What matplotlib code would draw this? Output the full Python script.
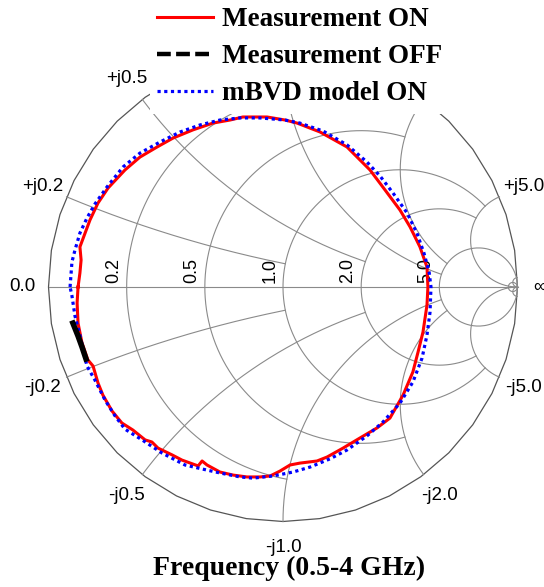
import numpy as np
import matplotlib.pyplot as plt
from matplotlib.lines import Line2D
from matplotlib.patches import Rectangle

on_re = [-0.874, -0.866, -0.861, -0.866, -0.844, -0.823, -0.789, -0.746, -0.674, -0.610,
         -0.537, -0.469, -0.384, -0.299, -0.226, -0.171, -0.068, 0.009, 0.060, 0.158,
         0.273, 0.371, 0.426, 0.499, 0.542, 0.584, 0.614, 0.618, 0.614, 0.597,
         0.576, 0.554, 0.512, 0.456, 0.401, 0.328, 0.256, 0.188, 0.145, 0.072,
         0.030, -0.013, -0.055, -0.098, -0.154, -0.213, -0.269, -0.324, -0.345, -0.362,
         -0.431, -0.473, -0.533, -0.559, -0.588, -0.640, -0.687, -0.729, -0.768, -0.789,
         -0.810, -0.832, -0.857, -0.874, -0.878, -0.874]
on_im = [0.000, 0.060, 0.115, 0.171, 0.230, 0.286, 0.358, 0.422, 0.499, 0.554,
         0.597, 0.635, 0.670, 0.699, 0.712, 0.725, 0.725, 0.712, 0.699, 0.661,
         0.597, 0.499, 0.426, 0.328, 0.256, 0.171, 0.085, 0.000, -0.077, -0.192,
         -0.277, -0.362, -0.461, -0.559, -0.601, -0.644, -0.687, -0.725, -0.742, -0.751,
         -0.759, -0.785, -0.806, -0.810, -0.810, -0.802, -0.789, -0.759, -0.742, -0.763,
         -0.738, -0.716, -0.687, -0.661, -0.652, -0.610, -0.580, -0.529, -0.461, -0.409,
         -0.337, -0.311, -0.239, -0.154, -0.068, 0.000]

off_re = [-0.896, -0.874, -0.857, -0.840]
off_im = [-0.154, -0.209, -0.256, -0.307]

model_re = [-0.908, -0.900, -0.887, -0.866, -0.836, -0.802, -0.751, -0.682, -0.610, -0.525,
            -0.439, -0.354, -0.269, -0.183, -0.098, 0.009, 0.072, 0.171, 0.273, 0.358,
            0.414, 0.469, 0.529, 0.571, 0.601, 0.623, 0.631, 0.627, 0.614, 0.593,
            0.554, 0.499, 0.426, 0.358, 0.273, 0.200, 0.115, 0.043, -0.043, -0.128,
            -0.183, -0.269, -0.345, -0.418, -0.516, -0.601, -0.674, -0.716, -0.759, -0.802,
            -0.836, -0.866, -0.887, -0.900, -0.908]
model_im = [0.000, 0.107, 0.158, 0.230, 0.294, 0.354, 0.426, 0.512, 0.571, 0.618,
            0.661, 0.691, 0.712, 0.721, 0.721, 0.712, 0.699, 0.665, 0.606, 0.533,
            0.473, 0.401, 0.316, 0.230, 0.145, 0.064, 0.000, -0.107, -0.205, -0.303,
            -0.405, -0.495, -0.576, -0.635, -0.695, -0.733, -0.768, -0.789, -0.806, -0.815,
            -0.810, -0.793, -0.776, -0.759, -0.708, -0.652, -0.606, -0.550, -0.482, -0.397,
            -0.337, -0.205, -0.124, -0.038, 0.000]

# smith grid values and where each grid line stops
r_values = [0.2, 0.5, 1.0, 2.0, 5.0]
r_stop = [1.0, 2.0, 5.0, 5.0, np.inf]
x_values = [0.2, 0.5, 1.0, 2.0, 5.0]
x_stop = [1.0, 2.0, 5.0, 5.0, np.inf]
# reactance labels that are not hidden behind the legend
x_labels_top = [0.2, 0.5, 5.0]
x_labels_bottom = [0.2, 0.5, 1.0, 2.0, 5.0]

legend_labels = ["Measurement ON", "Measurement OFF", "mBVD model ON"]
xlabel_text = "Frequency (0.5-4 GHz)"

### Layout (pixels)
W, H = 544, 587
CX, CY, RAD = 283, 287, 234.5

def gamma(z):
    return (z - 1) / (z + 1)

def r_circle(r, xmax, n=400):
    t = np.linspace(-np.arctan(xmax), np.arctan(xmax), n)
    return gamma(r + 1j * np.tan(t))

def x_arc(x, rmax, n=400):
    t = np.linspace(0, np.arctan(rmax), n)
    return gamma(np.tan(t) + 1j * x)

fig = plt.figure(figsize=(W / 100, H / 100), dpi=100)
ax = fig.add_axes([0, 0, 1, 1])
ax.set_xlim(-CX / RAD, (W - CX) / RAD)
ax.set_ylim((CY - H) / RAD, CY / RAD)
ax.set_aspect("equal")
ax.axis("off")

grid_kw = dict(color="#8a8a8a", lw=0.8, zorder=1)

# outer circle (coarse polygon like the original)
th = np.linspace(0, 2 * np.pi, 41)
ax.plot(np.cos(th), np.sin(th), color="#555555", lw=0.9, zorder=1)
ax.plot([-1, 1], [0, 0], **grid_kw)

for r, xm in zip(r_values, r_stop):
    g = r_circle(r, xm)
    ax.plot(g.real, g.imag, **grid_kw)
for x, rm in zip(x_values, x_stop):
    for s in (1, -1):
        g = x_arc(s * x, rm)
        ax.plot(g.real, g.imag, **grid_kw)

# tiny circles at the infinity point
g = r_circle(50.0, np.inf)
ax.plot(g.real, g.imag, **grid_kw)
for s in (1, -1):
    g = x_arc(s * 50.0, np.inf)
    ax.plot(g.real, g.imag, **grid_kw)

# labels
lab_font = dict(family="Liberation Sans", fontsize=13.5, ha="center", va="center", zorder=3)
for x in x_labels_top:
    g = gamma(1j * x) * 1.11
    ax.text(g.real, g.imag, "+j%.1f" % x, **lab_font)
for x in x_labels_bottom:
    g = gamma(-1j * x) * 1.11
    ax.text(g.real, g.imag, "-j%.1f" % x, **lab_font)
ax.text(-1.11, 0, "0.0", **lab_font)
ax.text((533 - CX) / RAD, 0, "\u221e", family="Liberation Sans", fontsize=13.5,
        ha="left", va="center", zorder=3)

for r in r_values:
    g = gamma(r)
    ax.text(g - 0.02, 0.015, "%.1f" % r, rotation=90, ha="right", va="bottom",
            family="Liberation Sans", fontsize=13, zorder=3)

### Curves
on_style = dict(color="red", lw=2.2)
off_style = dict(color="black", lw=3.2, ls=(0, (3.1, 1.2)))
model_style = dict(color="blue", lw=2.3, ls=(0, (1, 1.1)))

ax.plot(on_re, on_im, zorder=3, **on_style)
ax.plot(model_re, model_im, zorder=3.5, **model_style)
ax.plot(off_re, off_im, color="black", lw=4, zorder=4, solid_capstyle="projecting")

# white box behind the legend hides that part of the grid
ax.add_patch(Rectangle((150 / W, 1 - 114 / H), 320 / W, 114 / H, transform=ax.transAxes,
                       facecolor="white", edgecolor="none", zorder=4.5))

handles = [Line2D([], [], **on_style), Line2D([], [], **off_style), Line2D([], [], **model_style)]
leg = ax.legend(handles, legend_labels, loc="upper left",
                bbox_to_anchor=(157 / W, 1 - 7 / H), bbox_transform=fig.transFigure,
                frameon=False, borderpad=0, borderaxespad=0, handlelength=2.07,
                handletextpad=0.33, labelspacing=0.45,
                prop=dict(family="Liberation Serif", weight="bold", size=19.5))
leg.set_zorder(5)

fig.text(289 / W, 1 - 568 / H, xlabel_text, ha="center", va="center",
         family="Liberation Serif", weight="bold", fontsize=20)

fig.savefig("out.png", dpi=100)
